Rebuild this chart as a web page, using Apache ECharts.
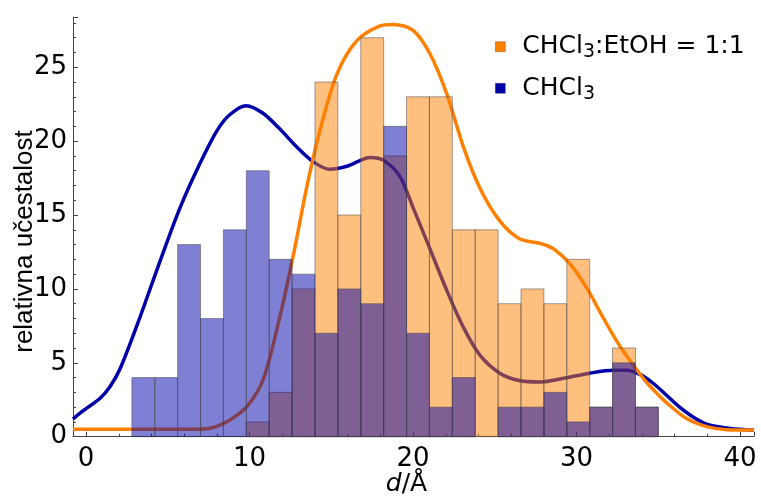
<!DOCTYPE html>
<html>
<head>
<meta charset="utf-8">
<script src="https://cdn.jsdelivr.net/npm/echarts@6/dist/echarts.min.js"></script>
<style>
html,body{margin:0;padding:0;background:#fff;}
#chart{width:761px;height:498px;}
</style>
</head>
<body>
<div id="chart"></div>
<script>
// Histogram bin edges (Å)
const binEdges = [2.8,4.2,5.6,7.0,8.4,9.8,11.2,12.6,14.0,15.4,16.8,18.2,19.6,21.0,22.4,23.8,25.2,26.6,28.0,29.4,30.8,32.2,33.6,35.0];
// Counts per bin
const mixCounts  = [0,0,0,0,0,1,3,10,24,15,27,19,23,23,14,14,9,10,9,12,2,6,2];
const chclCounts = [4,4,13,8,14,18,12,11,7,10,9,21,7,2,4,0,2,2,3,1,2,5,2];
// Smooth density curves
const chclCurveX = [-0.8,-0.37,0.06,0.86,1.47,2.08,3.3,4.53,5.75,6.97,8.0,8.8,9.8,10.8,11.87,12.89,13.9,14.9,15.95,17.37,18.2,19.2,20.0,21.0,22.06,23.08,24.1,25.3,26.5,27.8,29.2,30.8,32.25,33.1,33.9,34.7,35.5,36.3,37.1,37.96,39.4,40.85];
const chclCurveY = [1.2,1.6,1.95,2.6,3.4,4.6,8.1,11.9,15.5,18.5,20.7,21.8,22.4,21.9,20.8,19.6,18.6,18.1,18.3,18.9,18.7,17.6,15.5,12.8,9.9,7.4,5.5,4.3,3.8,3.7,3.95,4.3,4.5,4.5,4.2,3.6,2.8,2.0,1.35,0.85,0.55,0.45];
const mixCurveX = [-0.8,6.7,7.79,8.8,9.83,10.84,11.87,12.68,13.5,14.3,15.33,16.56,17.98,18.8,20.0,21.04,22.06,23.08,24.1,25.3,26.5,27.8,28.6,29.6,30.6,31.6,32.66,33.7,34.3,34.9,35.5,36.7,37.96,39.2,40.85];
const mixCurveY = [0.5,0.5,0.62,1.13,2.03,3.9,8.2,12.3,16.9,20.7,24.5,26.8,27.8,27.9,27.5,25.9,23.2,19.6,16.8,14.6,13.4,13.07,12.7,11.7,10.1,8.1,6.1,4.5,3.65,2.95,2.3,1.25,0.68,0.47,0.45];
const yTicks = [0,5,10,15,20,25];
const xTicks = [0,10,20,30,40];

const MIX = 'CHCl3:EtOH = 1:1';
const CHCL = 'CHCl3';

function binData(counts){
  const out = [];
  counts.forEach((v,i)=>{ if(v>0) out.push([binEdges[i], binEdges[i+1], v]); });
  return out;
}
function pairs(xs, ys){ return xs.map((x,i)=>[x, ys[i]]); }
function barRenderer(fill){
  return function(params, api){
    const p0 = api.coord([api.value(0), api.value(2)]);
    const p1 = api.coord([api.value(1), 0]);
    return {
      type:'rect',
      shape:{x:p0[0], y:p0[1], width:p1[0]-p0[0], height:p1[1]-p0[1]},
      style:{fill:fill, stroke:'rgba(70,70,70,0.5)', lineWidth:1}
    };
  };
}

const chart = echarts.init(document.getElementById('chart'), null, {renderer:'canvas'});
const tickFont = 'DejaVu Sans';
chart.setOption({
  animation:false,
  backgroundColor:'#fff',
  grid:{left:73, right:7, top:17, bottom:61.3, containLabel:false, outerBoundsMode:'none'},
  xAxis:{
    type:'value', min:-0.8, max:40.85, splitNumber:4,
    name:'{i|d}{n|/Å}', nameLocation:'middle', nameGap:33, nameMoveOverlap:false,
    nameTextStyle:{rich:{
      i:{fontFamily:tickFont, fontSize:25, fontStyle:'italic', color:'#000', lineHeight:30},
      n:{fontFamily:tickFont, fontSize:25, color:'#000', lineHeight:30}
    }, padding:[0,14,0,0]},
    axisLine:{show:true, onZero:false, lineStyle:{color:'#444', width:1}},
    axisTick:{show:true, inside:true, length:5, lineStyle:{color:'#444'}},
    minorTick:{show:true, splitNumber:5, length:3, lineStyle:{color:'#444'}},
    splitLine:{show:false},
    axisLabel:{show:true, margin:9, fontFamily:tickFont, fontSize:26, color:'#000', lineHeight:28,
      showMinLabel:false, showMaxLabel:false,
      formatter:function(v){ return xTicks.indexOf(Math.round(v*100)/100)>=0 ? String(v) : ''; }}
  },
  yAxis:{
    type:'value', min:0, max:28.4, interval:5,
    axisLine:{show:true, onZero:false, lineStyle:{color:'#444', width:1}},
    axisTick:{show:true, inside:true, length:5, lineStyle:{color:'#444'}},
    minorTick:{show:true, splitNumber:5, length:3, lineStyle:{color:'#444'}},
    splitLine:{show:false},
    axisLabel:{show:true, margin:6, fontFamily:tickFont, fontSize:26, color:'#000',
      showMaxLabel:false,
      formatter:function(v){ return yTicks.indexOf(v)>=0 ? String(v) : ''; }}
  },
  legend:{
    show:true, orient:'vertical', left:490, top:26.7, itemWidth:10, itemHeight:10, itemGap:11.6,
    selectedMode:false, icon:'rect',
    data:[
      {name:MIX, icon:'rect', itemStyle:{color:'#FF8000', borderColor:'rgba(0,0,0,0.35)', borderWidth:0.7, opacity:1}},
      {name:CHCL, icon:'rect', itemStyle:{color:'#0000AA', borderColor:'rgba(0,0,0,0.35)', borderWidth:0.7, opacity:1}}
    ],
    formatter:function(name){
      if(name===MIX) return '{p|CHCl}{s|3}{n|:EtOH = 1:1}';
      return '{p|CHCl}{s|3}';
    },
    textStyle:{
      color:'#000', fontFamily:tickFont, fontSize:25, lineHeight:30,
      rich:{
        p:{fontFamily:tickFont, fontSize:25, lineHeight:30, color:'#000', padding:[0,0,0,12]},
        n:{fontFamily:tickFont, fontSize:25, lineHeight:30, color:'#000'},
        s:{fontFamily:tickFont, fontSize:19, lineHeight:19, color:'#000', verticalAlign:'bottom'}
      }
    }
  },
  graphic:[{
    type:'text', x:25, y:241.5, rotation:Math.PI/2,
    style:{text:'relativna učestalost', fill:'#000', font:'26px "Liberation Sans"',
      textAlign:'center', textVerticalAlign:'middle', align:'center', verticalAlign:'middle'}
  }],
  series:[
    {name:CHCL, type:'line', z:1, data:pairs(chclCurveX, chclCurveY), showSymbol:false, smooth:0.3,
      lineStyle:{color:'#0000AA', width:3.5}, itemStyle:{color:'#0000AA'}},
    {name:MIX, type:'line', z:1, data:pairs(mixCurveX, mixCurveY), showSymbol:false, smooth:0.3,
      lineStyle:{color:'#FF8000', width:3.5}, itemStyle:{color:'#FF8000'}},
    {name:MIX, type:'custom', z:2, renderItem:barRenderer('rgba(255,128,0,0.5)'),
      encode:{x:[0,1], y:2}, data:binData(mixCounts), itemStyle:{color:'#FF8000'}},
    {name:CHCL, type:'custom', z:3, renderItem:barRenderer('rgba(0,0,170,0.5)'),
      encode:{x:[0,1], y:2}, data:binData(chclCounts), itemStyle:{color:'#0000AA'}}
  ]
});
</script>
</body>
</html>
